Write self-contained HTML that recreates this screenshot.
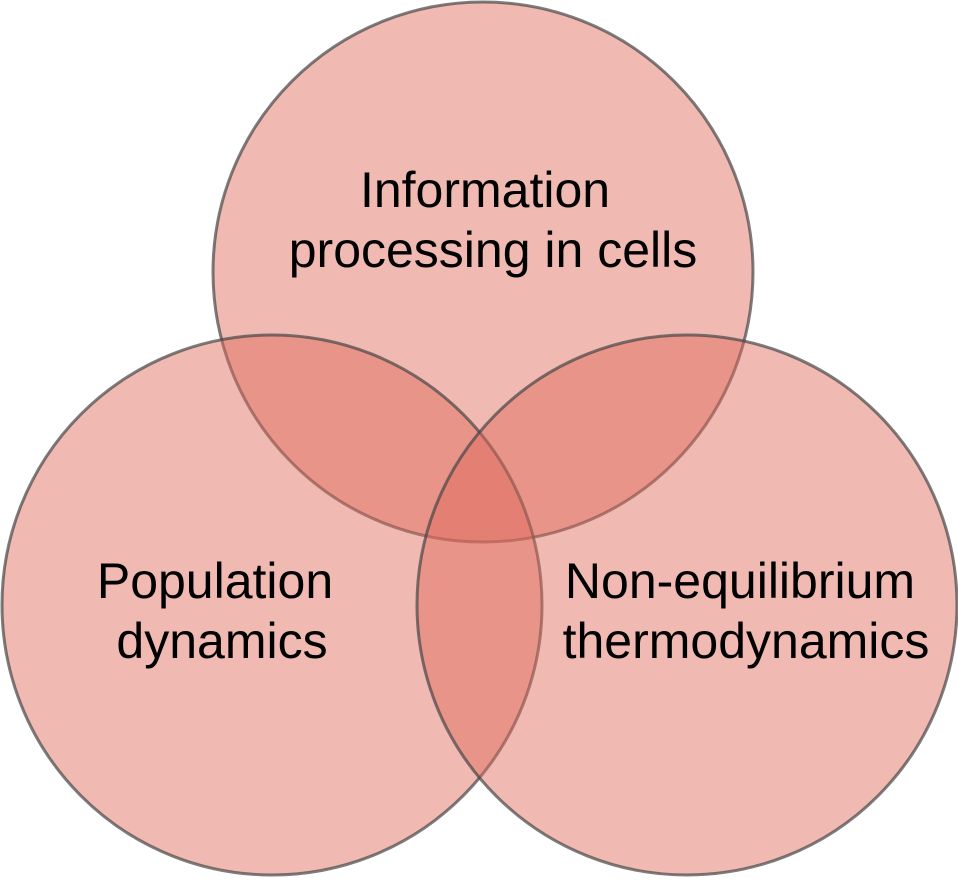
<!DOCTYPE html>
<html><head><style>html,body{margin:0;padding:0;background:#fff;}</style></head>
<body>
<svg width="958" height="878" viewBox="0 0 958 878" xmlns="http://www.w3.org/2000/svg">
<g fill="rgb(223,106,91)" fill-opacity="0.47" stroke="rgb(70,70,70)" stroke-opacity="0.7" stroke-width="3">
<circle cx="483" cy="272" r="270"/>
<circle cx="272" cy="605" r="270"/>
<circle cx="687" cy="605" r="270"/>
</g>
<g font-family="Liberation Sans, Arial, sans-serif" font-size="50" fill="#000" text-anchor="middle">
<text x="485" y="207">Information</text>
<text x="493" y="267">processing in cells</text>
<text x="215" y="598">Population</text>
<text x="222" y="658">dynamics</text>
<text x="740" y="598">Non-equilibrium</text>
<text x="746" y="658">thermodynamics</text>
</g>
</svg>
</body></html>
